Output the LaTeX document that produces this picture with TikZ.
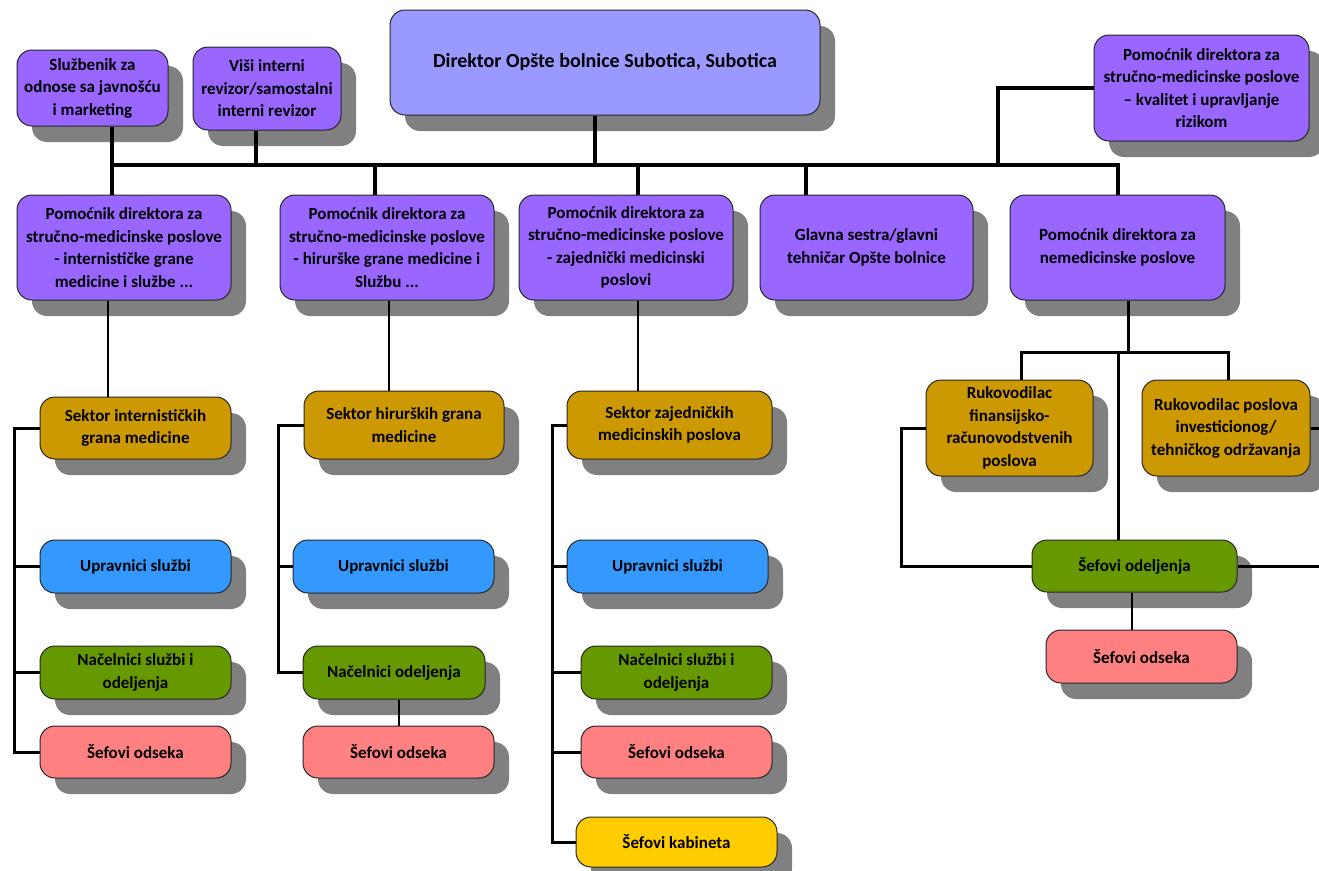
\documentclass[tikz,border=0pt]{standalone}
\usepackage{fontspec}
\setmainfont{Carlito}
\usetikzlibrary{shadows}
\definecolor{dirblue}{HTML}{9999FF}
\definecolor{pompurple}{HTML}{9966FF}
\definecolor{sekorange}{HTML}{CC9900}
\definecolor{upblue}{HTML}{3399FF}
\definecolor{nacgreen}{HTML}{669900}
\definecolor{sefpink}{HTML}{FF8080}
\definecolor{kabyellow}{HTML}{FFCC00}
\definecolor{shadowgray}{HTML}{808080}
\tikzset{
  box/.style={draw=black!85, line width=1pt, rounded corners=15pt, align=center,
    inner sep=2pt, font=\bfseries\fontsize{17}{22.5}\selectfont,
    drop shadow={shadow xshift=15pt, shadow yshift=-16pt, fill=shadowgray, opacity=1}},
  dirbox/.style={box, fill=dirblue, font=\bfseries\fontsize{20}{24}\selectfont},
  pombox/.style={box, fill=pompurple},
  sekbox/.style={box, fill=sekorange},
  upbox/.style={box, fill=upblue},
  nacbox/.style={box, fill=nacgreen},
  sefbox/.style={box, fill=sefpink},
  kabbox/.style={box, fill=kabyellow},
  bus/.style={line width=4.5pt},
  midline/.style={line width=3pt},
  link/.style={line width=2pt},
}
\begin{document}
\begin{tikzpicture}[x=1pt,y=-1pt]
\useasboundingbox (0,0) rectangle (1319,870);

\node[dirbox, minimum width=430pt, minimum height=105pt] (dir) at (605,62.5) {Direktor Opšte bolnice Subotica, Subotica};
\node[pombox, minimum width=151pt, minimum height=76pt] (sluz) at (92.5,88) {Službenik za\\odnose sa javnošću\\i marketing};
\node[pombox, minimum width=148pt, minimum height=83pt] (visi) at (267,88.5) {Viši interni\\revizor/samostalni\\interni revizor};
\node[pombox, minimum width=215pt, minimum height=106pt] (kval) at (1201.5,88) {Pomoćnik direktora za\\stručno-medicinske poslove\\– kvalitet i upravljanje\\rizikom};

\node[pombox, minimum width=214pt, minimum height=105pt] (p1) at (124,247.5) {Pomoćnik direktora za\\stručno-medicinske poslove\\- internističke grane\\medicine i službe ...};
\node[pombox, minimum width=214pt, minimum height=105pt] (p2) at (387,247.5) {Pomoćnik direktora za\\stručno-medicinske poslove\\- hirurške grane medicine i\\Službu ...};
\node[pombox, minimum width=214pt, minimum height=105pt] (p3) at (626,247.5) {Pomoćnik direktora za\\stručno-medicinske poslove\\- zajednički medicinski\\poslovi};
\node[pombox, minimum width=213pt, minimum height=105pt] (glavna) at (866.5,247.5) {Glavna sestra/glavni\\tehničar Opšte bolnice};
\node[pombox, minimum width=215pt, minimum height=105pt] (p5) at (1117.5,247.5) {Pomoćnik direktora za\\nemedicinske poslove};

\node[sekbox, minimum width=191pt, minimum height=62pt] (sek1) at (135.5,428) {Sektor internističkih\\grana medicine};
\node[sekbox, minimum width=200pt, minimum height=68pt] (sek2) at (404,425) {Sektor hirurških grana\\medicine};
\node[sekbox, minimum width=205pt, minimum height=68pt] (sek3) at (669.5,425) {Sektor zajedničkih\\medicinskih poslova};
\node[sekbox, minimum width=167pt, minimum height=96pt] (rukfin) at (1009.5,428) {Rukovodilac\\finansijsko-\\računovodstvenih\\poslova};
\node[sekbox, minimum width=168pt, minimum height=96pt] (rukinv) at (1226,428) {Rukovodilac poslova\\investicionog/\\tehničkog održavanja};

\node[upbox, minimum width=191pt, minimum height=53pt] (up1) at (135.5,566.5) {Upravnici službi};
\node[nacbox, minimum width=191pt, minimum height=53pt] (nac1) at (135.5,672.5) {Načelnici službi i\\odeljenja};
\node[sefbox, minimum width=191pt, minimum height=52pt] (sef1) at (135.5,752) {Šefovi odseka};

\node[upbox, minimum width=201pt, minimum height=53pt] (up2) at (393.5,566.5) {Upravnici službi};
\node[nacbox, minimum width=182pt, minimum height=53pt] (nac2) at (394,672.5) {Načelnici odeljenja};
\node[sefbox, minimum width=191pt, minimum height=52pt] (sef2) at (398.5,752) {Šefovi odseka};

\node[upbox, minimum width=201pt, minimum height=53pt] (up3) at (667.5,566.5) {Upravnici službi};
\node[nacbox, minimum width=191pt, minimum height=53pt] (nac3) at (676.5,672.5) {Načelnici službi i\\odeljenja};
\node[sefbox, minimum width=191pt, minimum height=52pt] (sef3) at (676.5,752) {Šefovi odseka};
\node[kabbox, minimum width=201pt, minimum height=50pt] (kab) at (676.5,842) {Šefovi kabineta};

\node[nacbox, minimum width=205pt, minimum height=52pt] (sodj) at (1134.5,566) {Šefovi odeljenja};
\node[sefbox, minimum width=191pt, minimum height=53pt] (sods) at (1141.5,656.5) {Šefovi odseka};

% glavna linija ispod direktora
\coordinate (b1) at (112,165);
\coordinate (b5) at (1118,165);
\coordinate (bk) at (998,165);
\draw[bus] (b1) -- (b5) -- (b5 |- p5.north);
\draw[bus] (b1 |- sluz.south) -- (b1 |- p1.north);
\draw[bus] ([xshift=-11pt]visi.south) -- ++(0,35);
\draw[bus] ([xshift=-10pt]dir.south) -- ++(0,50);
\draw[bus] (kval.west) -| (bk);
\draw[bus] ([xshift=-12pt]p2.north) -- ++(0,-30);
\draw[bus] ([xshift=12pt]p3.north) -- ++(0,-30);
\draw[bus] ([xshift=-60.5pt]glavna.north) -- ++(0,-30);

\draw[link] ([xshift=-16pt]p1.south) -- ([xshift=-16pt]p1.south |- sek1.north);
\draw[link] ([xshift=2pt]p2.south) -- ([xshift=2pt]p2.south |- sek2.north);
\draw[link] ([xshift=12pt]p3.south) -- ([xshift=12pt]p3.south |- sek3.north);

% nemedicinski poslovi
\draw[midline] ([xshift=10.5pt]p5.south) -- ++(0,52) coordinate (j5);
\draw[midline] ([xshift=11.5pt]rukfin.north) |- (j5) -| ([xshift=2pt]rukinv.north);
\draw[midline] ([xshift=-16.5pt]sodj.north) -- ([xshift=-16.5pt]sodj.north |- j5);
\draw[midline] (rukfin.west) -- ++(-24,0) |- (sodj.west);
\draw[midline] (rukinv.east) -- ++(14,0) coordinate (rinv);
\draw[midline] (sodj.east) -- ++(86,0) coordinate (rodj);
\draw[link] (sods.north -| 1132,0) -- (sodj.south -| 1132,0);

% sektori
\draw[midline] (sek1.west) -- ++(-25,0) coordinate (c1) |- (sef1.west);
\draw[midline] (c1 |- up1.west) -- (up1.west);
\draw[midline] (c1 |- nac1.west) -- (nac1.west);

\draw[midline] (sek2.west) -- ++(-25,0) coordinate (c2) |- (nac2.west);
\draw[midline] (c2 |- up2.west) -- (up2.west);
\draw[link] ([xshift=5pt]nac2.south) -- ([xshift=5pt]nac2.south |- sef2.north);

\draw[midline] (sek3.west) -- ++(-14,0) coordinate (c3) |- (kab.west);
\draw[midline] (c3 |- up3.west) -- (up3.west);
\draw[midline] (c3 |- nac3.west) -- (nac3.west);
\draw[midline] (c3 |- sef3.west) -- (sef3.west);
\end{tikzpicture}
\end{document}
